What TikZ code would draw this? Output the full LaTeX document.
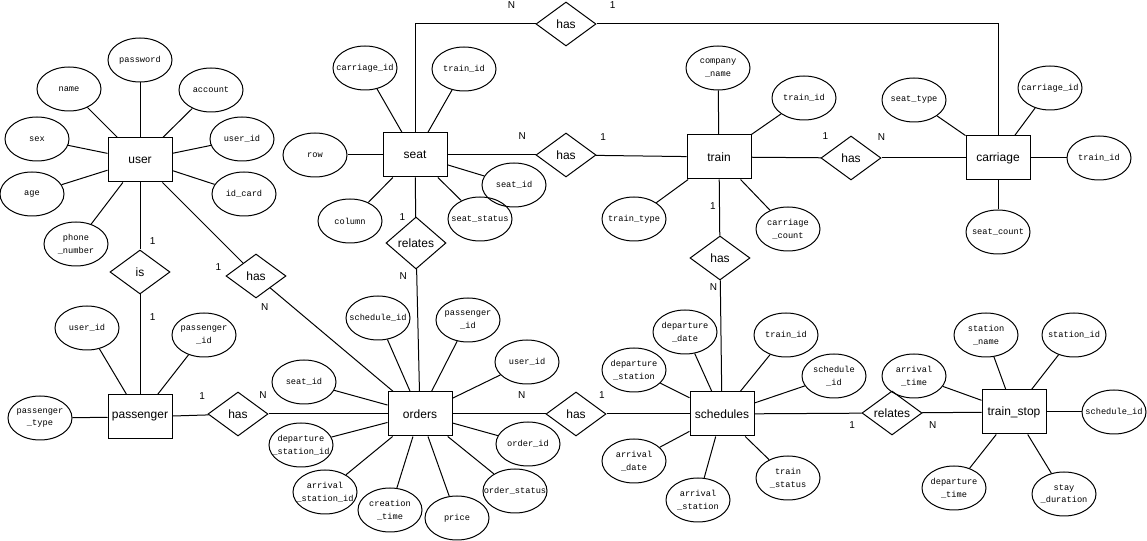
\documentclass[tikz,border=0pt]{standalone}
\usepackage{fontspec}
\setmainfont{Liberation Sans}
\newfontfamily\attrfont{Liberation Mono}
\usetikzlibrary{shapes.geometric,positioning}

\begin{document}
\begin{tikzpicture}[
    x=0.75pt, y=-0.75pt, line width=0.75pt,
    entity/.style={draw, fill=white, minimum width=48pt, minimum height=33pt, inner sep=0pt, font=\fontsize{9}{11}\selectfont},
    attr/.style={draw, ellipse, minimum width=48pt, minimum height=33pt, inner xsep=-20pt, inner ysep=0pt, font=\attrfont\fontsize{6.5}{9.5}\selectfont, align=center},
    rel/.style={draw, diamond, aspect=1.4, minimum width=45pt, minimum height=33pt, inner sep=0pt, font=\fontsize{9}{11}\selectfont},
    card/.style={font=\fontsize{7.5}{9}\selectfont, inner sep=1pt}
]
    \useasboundingbox (0,0) rectangle (1147,541);

    % Entities
    \node[entity] (user) at (140,160) {user};
    \node[entity] (passenger) at (140,417) {passenger};
    \node[entity] (seat) at (415,155) {seat};
    \node[entity] (train) at (719,157) {train};
    \node[entity] (carriage) at (998,158) {carriage};
    \node[entity] (orders) at (420,414) {orders};
    \node[entity] (schedules) at (722,414) {schedules};
    \node[entity] (trainstop) at (1014,412) {train\_stop};

    % Relationships
    \node[rel] (isUP) at (140,272) {is};
    \node[rel] (hasUO) at (256,276) {has};
    \node[rel] (hasPO) at (238,414) {has};
    \node[rel, minimum height=39pt] (relSO) at (416,243) {relates};
    \node[rel] (hasTop) at (566,24) {has};
    \node[rel] (hasST) at (566,155) {has};
    \node[rel] (hasTC) at (851,158) {has};
    \node[rel] (hasTS) at (720,258) {has};
    \node[rel] (hasOS) at (576,414) {has};
    \node[rel] (relSTS) at (892,413) {relates};

    % Attributes - user
    \node[attr] (u-password) at (140,60) {password};
    \node[attr] (u-name) at (69,89) {name};
    \node[attr] (u-account) at (211,90) {account};
    \node[attr] (u-sex) at (37,139) {sex};
    \node[attr] (u-userid) at (242,139) {user\_id};
    \node[attr] (u-age) at (32,194) {age};
    \node[attr] (u-idcard) at (244,194) {id\_card};
    \node[attr] (u-phone) at (76,244) {phone\\\_number};

    % Attributes - passenger
    \node[attr] (p-userid) at (87,328) {user\_id};
    \node[attr] (p-pid) at (204,335) {passenger\\\_id};
    \node[attr] (p-type) at (40,418) {passenger\\\_type};

    % Attributes - seat
    \node[attr] (s-carriageid) at (365,68) {carriage\_id};
    \node[attr] (s-trainid) at (464,69) {train\_id};
    \node[attr] (s-row) at (315,155) {row};
    \node[attr] (s-seatid) at (514,185) {seat\_id};
    \node[attr] (s-column) at (350,221) {column};
    \node[attr] (s-status) at (480,219) {seat\_status};

    % Attributes - train
    \node[attr] (t-company) at (718,68) {company\\\_name};
    \node[attr] (t-trainid) at (804,98) {train\_id};
    \node[attr] (t-type) at (634,219) {train\_type};
    \node[attr] (t-count) at (788,229) {carriage\\\_count};

    % Attributes - carriage
    \node[attr] (c-seattype) at (914,100) {seat\_type};
    \node[attr] (c-carriageid) at (1050,88) {carriage\_id};
    \node[attr] (c-trainid) at (1099,158) {train\_id};
    \node[attr] (c-seatcount) at (998,232) {seat\_count};

    % Attributes - orders
    \node[attr] (o-scheduleid) at (378,318) {schedule\_id};
    \node[attr] (o-pid) at (468,320) {passenger\\\_id};
    \node[attr] (o-userid) at (527,362) {user\_id};
    \node[attr] (o-seatid) at (304,382) {seat\_id};
    \node[attr] (o-depst) at (301,445) {departure\\\_station\_id};
    \node[attr] (o-orderid) at (528,444) {order\_id};
    \node[attr] (o-arrst) at (325,492) {arrival\\\_station\_id};
    \node[attr] (o-status) at (515,491) {order\_status};
    \node[attr] (o-ctime) at (390,510) {creation\\\_time};
    \node[attr] (o-price) at (457,518) {price};

    % Attributes - schedules
    \node[attr] (sc-depdate) at (685,332) {departure\\\_date};
    \node[attr] (sc-depst) at (634,370) {departure\\\_station};
    \node[attr] (sc-trainid) at (786,335) {train\_id};
    \node[attr] (sc-schedid) at (834,376) {schedule\\\_id};
    \node[attr] (sc-arrdate) at (634,461) {arrival\\\_date};
    \node[attr] (sc-arrst) at (698,500) {arrival\\\_station};
    \node[attr] (sc-status) at (788,478) {train\\\_status};

    % Attributes - train_stop
    \node[attr] (ts-name) at (986,335) {station\\\_name};
    \node[attr] (ts-id) at (1074,335) {station\_id};
    \node[attr] (ts-arrtime) at (914,376) {arrival\\\_time};
    \node[attr] (ts-schedid) at (1114,412) {schedule\_id};
    \node[attr] (ts-deptime) at (954,488) {departure\\\_time};
    \node[attr] (ts-stay) at (1064,494) {stay\\\_duration};

    % Attribute links
    \draw (user) -- (u-password); \draw (user) -- (u-name); \draw (user) -- (u-account);
    \draw (user) -- (u-sex); \draw (user) -- (u-userid); \draw (user) -- (u-age);
    \draw (user) -- (u-idcard); \draw (user) -- (u-phone);
    \draw (passenger) -- (p-userid); \draw (passenger) -- (p-pid); \draw (passenger) -- (p-type);
    \draw (seat) -- (s-carriageid); \draw (seat) -- (s-trainid); \draw (seat) -- (s-row);
    \draw (seat) -- (s-seatid); \draw (seat) -- (s-column); \draw (seat) -- (s-status);
    \draw (train) -- (t-company); \draw (train) -- (t-trainid); \draw (train) -- (t-type);
    \draw (train) -- (t-count);
    \draw (carriage) -- (c-seattype); \draw (carriage) -- (c-carriageid);
    \draw (carriage) -- (c-trainid); \draw (carriage) -- (c-seatcount);
    \draw (orders) -- (o-scheduleid); \draw (orders) -- (o-pid); \draw (orders) -- (o-userid);
    \draw (orders) -- (o-seatid); \draw (orders) -- (o-depst); \draw (orders) -- (o-orderid);
    \draw (orders) -- (o-arrst); \draw (orders) -- (o-status); \draw (orders) -- (o-ctime);
    \draw (orders) -- (o-price);
    \draw (schedules) -- (sc-depdate); \draw (schedules) -- (sc-depst); \draw (schedules) -- (sc-trainid);
    \draw (schedules) -- (sc-schedid); \draw (schedules) -- (sc-arrdate); \draw (schedules) -- (sc-arrst);
    \draw (schedules) -- (sc-status);
    \draw (trainstop) -- (ts-name); \draw (trainstop) -- (ts-id); \draw (trainstop) -- (ts-arrtime);
    \draw (trainstop) -- (ts-schedid); \draw (trainstop) -- (ts-deptime); \draw (trainstop) -- (ts-stay);

    % Relationship links
    \draw (user) -- (isUP) node[card, pos=.88, right=6pt] {1};
    \draw (isUP) -- (passenger) node[card, pos=.23, right=6pt] {1};
    \draw (user) -- (hasUO) node[card, pos=1, left=15pt, yshift=-3pt] {1};
    \draw (hasUO) -- (orders) node[card, pos=0, below left=10pt and 0pt] {N};
    \draw (passenger) -- (hasPO) node[card, pos=1, above left=10pt and 1.5pt] {1};
    \draw (hasPO) -- (orders) node[card, pos=0, above left=10pt and 0pt] {N};
    \draw (seat) -- (relSO) node[card, pos=1, left=6.5pt] {1};
    \draw (relSO) -- (orders) node[card, pos=.06, left=6pt] {N};
    \draw (seat) |- (hasTop) node[card, pos=.9, above=10pt] {N};
    \draw (hasTop) -| (carriage) node[card, pos=.02, above=10pt] {1};
    \draw (seat) -- (hasST) node[card, pos=.85, above=10pt] {N};
    \draw (hasST) -- (train) node[card, pos=0, above right=10pt and 2pt] {1};
    \draw (train) -- (hasTC) node[card, pos=1, above right=12pt and 0pt] {1};
    \draw (hasTC) -- (carriage) node[card, pos=0, above=12pt] {N};
    \draw (train) -- (hasTS) node[card, pos=.47, left=1.5pt] {1};
    \draw (hasTS) -- (schedules) node[card, pos=.06, left=1pt] {N};
    \draw (orders) -- (hasOS) node[card, pos=.745, above=10pt] {N};
    \draw (hasOS) -- (schedules) node[card, pos=0, above left=10pt and 0pt] {1};
    \draw (schedules) -- (relSTS) node[card, pos=.91, below=5pt] {1};
    \draw (relSTS) -- (trainstop) node[card, pos=.18, below=5pt] {N};
\end{tikzpicture}
\end{document}
